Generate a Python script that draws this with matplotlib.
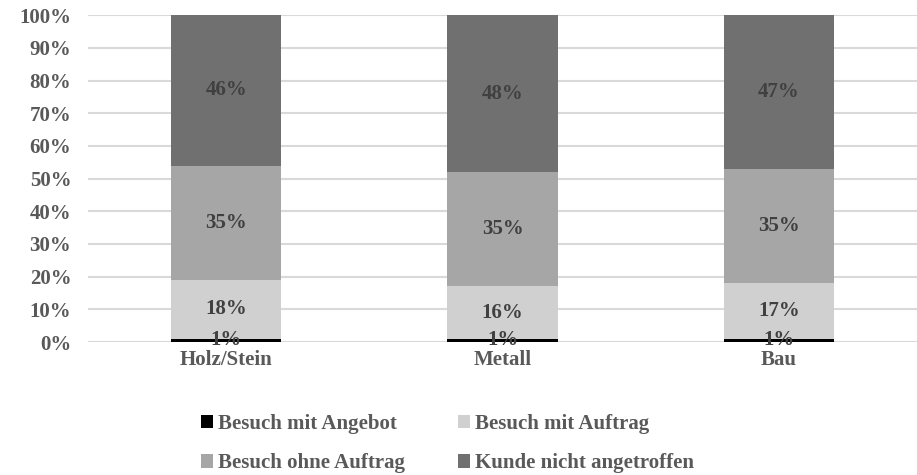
import numpy as np
import matplotlib.pyplot as plt

categories = ["Holz/Stein", "Metall", "Bau"]
series_names = ["Besuch mit Angebot", "Besuch mit Auftrag",
                "Besuch ohne Auftrag", "Kunde nicht angetroffen"]
mit_angebot = [1, 1, 1]
mit_auftrag = [18, 16, 17]
ohne_auftrag = [35, 35, 35]
nicht_angetroffen = [46, 48, 47]
series_values = [mit_angebot, mit_auftrag, ohne_auftrag, nicht_angetroffen]
colors = ["#000000", "#d0d0d0", "#a6a6a6", "#707070"]

plt.rcParams["font.family"] = ["Liberation Serif", "DejaVu Serif"]
plt.rcParams["font.weight"] = "bold"
text_col = "#595959"
fs = 15

fig = plt.figure(figsize=(9.17, 4.75), dpi=100)
ax = fig.add_axes([0.096, 0.28, 0.904, 0.688])

x = np.arange(len(categories))
bottom = np.zeros(len(categories))
handles = []
for name, vals, col in zip(series_names, series_values, colors):
    vals = np.array(vals, dtype=float)
    b = ax.bar(x, vals, 0.4, bottom=bottom, color=col, label=name, zorder=2)
    handles.append(b)
    for xi, v, bt in zip(x, vals, bottom):
        ax.text(xi, bt + v / 2, f"{v:.0f}%", ha="center", va="center",
                fontsize=fs, color="#404040", fontweight="bold", zorder=3)
    bottom += vals

ax.set_xlim(-0.5, len(categories) - 0.5)
ax.set_ylim(0, 100)
ax.set_yticks(np.arange(0, 101, 10))
ax.set_yticklabels([f"{t}%" for t in range(0, 101, 10)])
ax.set_xticks(x)
ax.set_xticklabels(categories)
ax.tick_params(axis="both", length=0, labelsize=fs, labelcolor=text_col)
ax.tick_params(axis="y", pad=12)
ax.tick_params(axis="x", pad=6)
ax.yaxis.grid(True, color="#d9d9d9", lw=1.5, zorder=0)
ax.set_axisbelow(True)
for s in ax.spines.values():
    s.set_visible(False)

# legend filled column-wise, so reorder to get row-wise layout
order = [0, 2, 1, 3]
leg = fig.legend(handles=[handles[i] for i in order],
                 labels=[series_names[i] for i in order], ncol=2,
                 loc="lower center", bbox_to_anchor=(0.488, -0.036),
                 frameon=False, fontsize=fs, handlelength=0.6, handleheight=0.6,
                 handletextpad=0.25, columnspacing=2.5, labelspacing=0.95)
for t in leg.get_texts():
    t.set_color(text_col)

fig.savefig("out.png", dpi=100)
